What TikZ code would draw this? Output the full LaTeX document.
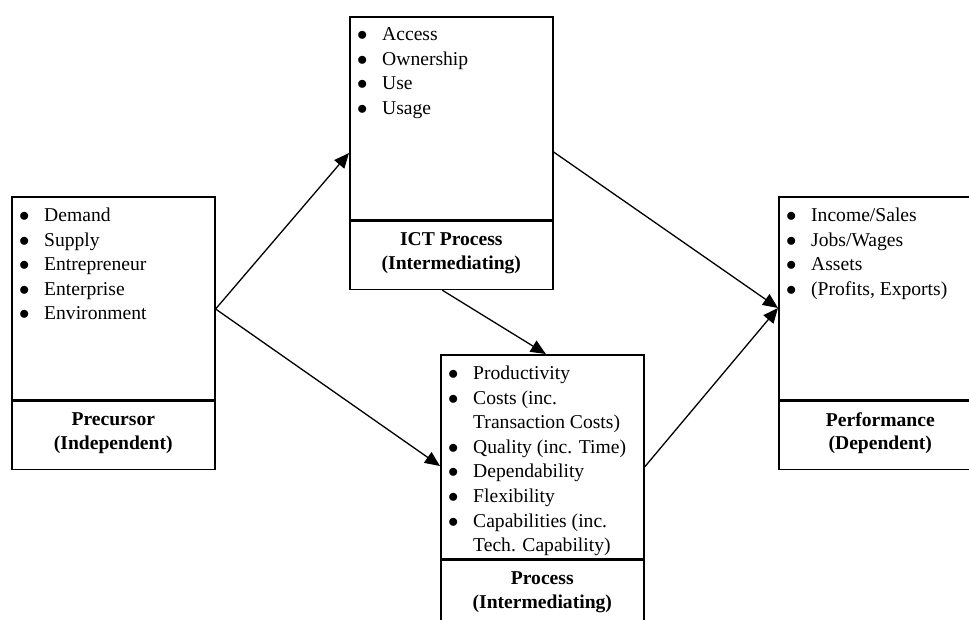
\documentclass[tikz,border=0pt]{standalone}
\usepackage{fontspec}
\setmainfont{Liberation Serif}
\usetikzlibrary{arrows.meta}
% bullet cell used in the item lists
\newcommand\itm{\makebox[26pt][c]{$\bullet$}}
\newcommand\listfont{\fontsize{19.6}{24.6}\selectfont}
\begin{document}
\begin{tikzpicture}[x=1pt,y=-1pt,
  panel/.style={draw,line width=1.6pt,minimum width=203pt,minimum height=203pt,
    inner sep=0pt,anchor=north west},
  caption/.style={draw,line width=1.6pt,minimum width=203pt,minimum height=68pt,
    inner sep=0pt,anchor=north,align=center,text depth=8.5pt,
    font=\fontsize{19.6}{23.5}\selectfont\bfseries},
  items/.style={anchor=base west,inner sep=0pt,font=\listfont},
  link/.style={line width=1.3pt,-{Triangle[length=15pt,width=13pt]}}]
\useasboundingbox (0,0) rectangle (969,620);
\clip (0,0) rectangle (969,620);

% Precursor
\node[panel] (pre) at (11,196) {};
\node[caption] (prelab) at (pre.south) {Precursor\\(Independent)};
\node[items] (prelist) at (11,221.5) {\begin{tabular}[t]{@{}l@{\hspace{7pt}}l@{}}
  \itm & Demand\\
  \itm & Supply\\
  \itm & Entrepreneur\\
  \itm & Enterprise\\
  \itm & Environment
\end{tabular}};

% ICT process
\node[panel] (ict) at (349,16) {};
\node[caption] (ictlab) at (ict.south) {ICT Process\\(Intermediating)};
\node[items] (ictlist) at (349,40.5) {\begin{tabular}[t]{@{}l@{\hspace{7pt}}l@{}}
  \itm & Access\\
  \itm & Ownership\\
  \itm & Use\\
  \itm & Usage
\end{tabular}};

% Process
\node[panel,minimum height=204pt] (proc) at (440,354) {};
\node[caption] (proclab) at (proc.south) {Process\\(Intermediating)};
\node[items] (proclist) at (440,379.5) {\begin{tabular}[t]{@{}l@{\hspace{7pt}}l@{}}
  \itm & Productivity\\
  \itm & Costs (inc.\\
       & Transaction Costs)\\
  \itm & Quality (inc. Time)\\
  \itm & Dependability\\
  \itm & Flexibility\\
  \itm & Capabilities (inc.\\
       & Tech. Capability)
\end{tabular}};

% Performance
\node[panel] (perf) at (778,196) {};
\node[caption] (perflab) at (perf.south) {Performance\\(Dependent)};
\node[items] (perflist) at (778,221.5) {\begin{tabular}[t]{@{}l@{\hspace{7pt}}l@{}}
  \itm & Income/Sales\\
  \itm & Jobs/Wages\\
  \itm & Assets\\
  \itm & (Profits, Exports)
\end{tabular}};

% Connectors
\draw[link] ([yshift=-113pt]pre.north east) -- ([yshift=-137pt]ict.north west);
\draw[link] ([yshift=-113pt]pre.north east) -- ([yshift=-112pt]proc.north west);
\draw[link] ([xshift=-9pt]ictlab.south) -- ([xshift=3.5pt]proc.north);
\draw[link] ([yshift=-136pt]ict.north east) -- ([yshift=-112pt]perf.north west);
\draw[link] ([yshift=-113pt]proc.north east) -- ([yshift=-112pt]perf.north west);
\end{tikzpicture}
\end{document}
